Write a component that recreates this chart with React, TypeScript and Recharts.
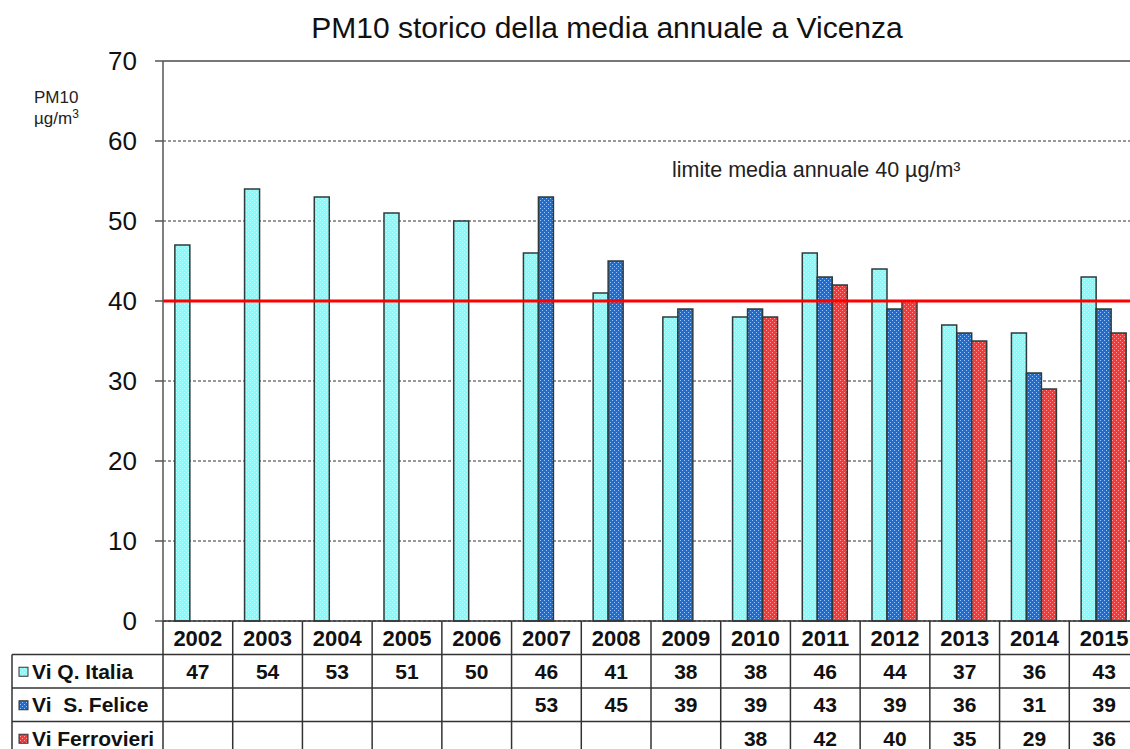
import React from 'react';
import { BarChart, Bar, XAxis, YAxis, CartesianGrid, ReferenceLine } from 'recharts';

const years = ['2002', '2003', '2004', '2005', '2006', '2007', '2008', '2009', '2010', '2011', '2012', '2013', '2014', '2015'];
const viQItalia: (number | null)[] = [47, 54, 53, 51, 50, 46, 41, 38, 38, 46, 44, 37, 36, 43];
const viSFelice: (number | null)[] = [null, null, null, null, null, 53, 45, 39, 39, 43, 39, 36, 31, 39];
const viFerrovieri: (number | null)[] = [null, null, null, null, null, null, null, null, 38, 42, 40, 35, 29, 36];
const yTicks = [0, 10, 20, 30, 40, 50, 60, 70];
const seriesNames = ['Vi Q. Italia', 'Vi  S. Felice', 'Vi Ferrovieri'];
const limitValue = 40;
const title = 'PM10 storico della media annuale a Vicenza';
const limitText = 'limite media annuale 40 µg/m³';

const data = years.map((y, i) => ({
  year: y,
  qItalia: viQItalia[i],
  sFelice: viSFelice[i],
  ferrovieri: viFerrovieri[i],
}));

const FONT = 'Arial, "Liberation Sans", Helvetica, sans-serif';
const LINE = '#333';
const patternIds = ['patCyan', 'patBlue', 'patRed'];
const seriesKeys = ['qItalia', 'sFelice', 'ferrovieri'];
const seriesValues = [viQItalia, viSFelice, viFerrovieri];

const CHART_W = 1150;
const CHART_H = 760;
const X_AXIS_H = 139;
const ROW_H = 33.5;
const TABLE_LEFT = 12;

function TableTick(props: any) {
  const { x, y, payload, index } = props;
  const half = payload && payload.offset ? payload.offset : 34.86;
  const left = x - half;
  const right = x + half;
  const bottom = y + X_AXIS_H;
  const rowTop = (r: number) => y + ROW_H * (r + 1);
  return (
    <g>
      <line x1={left} y1={y} x2={left} y2={bottom} stroke={LINE} strokeWidth={1.5} />
      {index === years.length - 1 && (
        <line x1={right} y1={y} x2={right} y2={bottom} stroke={LINE} strokeWidth={1.5} />
      )}
      <text x={x} y={y + ROW_H / 2 + 1} textAnchor="middle" dominantBaseline="central" fontFamily={FONT} fontWeight="bold" fontSize={22} fill="#111">
        {payload.value}
      </text>
      {seriesValues.map((arr, r) => {
        const v = arr[index];
        return v == null ? null : (
          <text key={r} x={x} y={rowTop(r) + ROW_H / 2} textAnchor="middle" dominantBaseline="central" fontFamily={FONT} fontWeight="bold" fontSize={21} fill="#111">
            {v}
          </text>
        );
      })}
      {index === 0 && (
        <g>
          {[0, 1, 2, 3].map((r) => (
            <line key={r} x1={TABLE_LEFT} y1={rowTop(r)} x2={CHART_W} y2={rowTop(r)} stroke={LINE} strokeWidth={1.5} />
          ))}
          <line x1={TABLE_LEFT} y1={rowTop(0)} x2={TABLE_LEFT} y2={bottom} stroke={LINE} strokeWidth={1.5} />
          {seriesNames.map((name, r) => (
            <g key={r}>
              <rect x={TABLE_LEFT + 7} y={rowTop(r) + ROW_H / 2 - 4} width={9} height={9} fill={`url(#${patternIds[r]})`} stroke={LINE} strokeWidth={1} />
              <text x={TABLE_LEFT + 20} y={rowTop(r) + ROW_H / 2} dominantBaseline="central" fontFamily={FONT} fontWeight="bold" fontSize={21} fill="#111" style={{ whiteSpace: 'pre' }}>
                {name}
              </text>
            </g>
          ))}
        </g>
      )}
    </g>
  );
}

function LimitLabel(props: any) {
  const vb = props.viewBox || {};
  return (
    <text x={(vb.x || 0) + 509} y={(vb.y || 0) - 124} fontFamily={FONT} fontSize={21.5} fill="#222">
      {limitText}
    </text>
  );
}

export default function App() {
  return (
    <div style={{ position: 'absolute', left: 0, top: 0, width: 1130, height: 749, overflow: 'hidden', background: '#fff' }}>
      <BarChart
        width={CHART_W}
        height={CHART_H}
        data={data}
        margin={{ top: 61, right: 11, left: 0, bottom: 0 }}
        barCategoryGap="17%"
        barGap={0}
      >
        <defs>
          <pattern id="patCyan" patternUnits="userSpaceOnUse" width="4" height="4">
            <rect width="4" height="4" fill="#80FEFE" />
            <rect x="0" y="0" width="1" height="1" fill="#C4FFFF" />
            <rect x="2" y="2" width="1" height="1" fill="#C4FFFF" />
          </pattern>
          <pattern id="patBlue" patternUnits="userSpaceOnUse" width="4" height="4">
            <rect width="4" height="4" fill="#1C6ED6" />
            <rect x="0" y="0" width="1" height="1" fill="#9CC4F4" />
            <rect x="2" y="2" width="1" height="1" fill="#9CC4F4" />
          </pattern>
          <pattern id="patRed" patternUnits="userSpaceOnUse" width="4" height="4">
            <rect width="4" height="4" fill="#FF3434" />
            <rect x="0" y="0" width="1" height="1" fill="#FFA0A0" />
            <rect x="2" y="2" width="1" height="1" fill="#FFA0A0" />
          </pattern>
        </defs>
        <CartesianGrid vertical={false} stroke="#333" strokeDasharray="3 2" strokeWidth={1} />
        <XAxis
          dataKey="year"
          height={X_AXIS_H}
          interval={0}
          tickLine={false}
          tickSize={0}
          tickMargin={0}
          axisLine={{ stroke: LINE, strokeWidth: 1.5 }}
          tick={(p: any) => <TableTick {...p} />}
        />
        <YAxis
          width={163}
          domain={[0, 70]}
          ticks={yTicks}
          interval={0}
          tickSize={8}
          tickMargin={18}
          axisLine={{ stroke: '#555', strokeWidth: 1.5 }}
          tickLine={{ stroke: '#555', strokeWidth: 1.5 }}
          tick={{ fontSize: 26, fill: '#111', fontFamily: FONT }}
        />
        <ReferenceLine y={70} stroke="#777" strokeWidth={2} />
        {seriesKeys.map((k, i) => (
          <Bar key={k} dataKey={k} fill={`url(#${patternIds[i]})`} stroke="#2E3B3B" strokeWidth={1.5} isAnimationActive={false} />
        ))}
        <ReferenceLine y={limitValue} stroke="#FF0000" strokeWidth={3} label={(p: any) => <LimitLabel {...p} />} />
      </BarChart>
      <svg width={1130} height={140} style={{ position: 'absolute', left: 0, top: 0, pointerEvents: 'none' }}>
        <text x={607} y={38} textAnchor="middle" fontFamily={FONT} fontSize={30} fill="#111">
          {title}
        </text>
        <text x={34} y={103} fontFamily={FONT} fontSize={17} fill="#222">PM10</text>
        <text x={34} y={124} fontFamily={FONT} fontSize={17} fill="#222">
          µg/m<tspan dy={-6} fontSize={12}>3</tspan>
        </text>
      </svg>
    </div>
  );
}
